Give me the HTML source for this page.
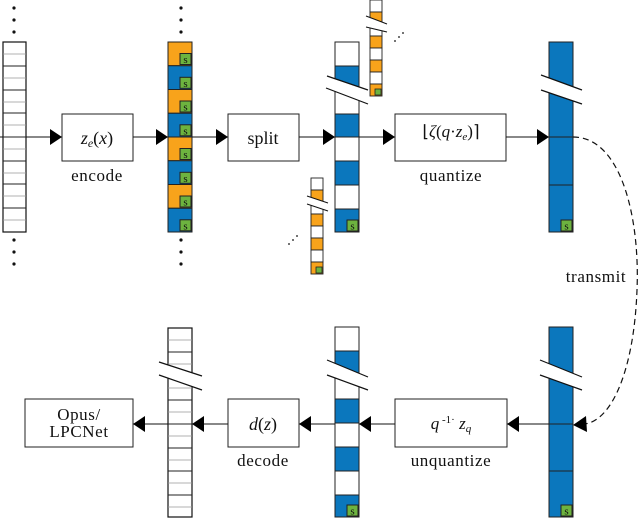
<!DOCTYPE html>
<html><head><meta charset="utf-8"><style>
html,body{margin:0;padding:0;background:#fff;}
svg{display:block;}
text{font-family:"Liberation Serif",serif;fill:#111;}
.lb{font-size:17px;letter-spacing:0.6px;}
</style></head><body>
<svg width="640" height="520" viewBox="0 0 640 520" xmlns="http://www.w3.org/2000/svg">
<defs>
<g id="s"><rect width="11" height="11" fill="#6db33f" stroke="#222" stroke-width="1"/><text x="5.5" y="9.5" font-family="Liberation Sans,sans-serif" font-size="11" text-anchor="middle">s</text></g>
<g id="ss"><rect width="6" height="6" fill="#6db33f" stroke="#222" stroke-width="0.8"/></g>
</defs>
<rect x="3" y="42" width="23" height="190" fill="#fff" stroke="#111" stroke-width="1.2"/>
<g stroke="#999" stroke-width="0.8">
<line x1="3" x2="26" y1="54" y2="54"/><line x1="3" x2="26" y1="78" y2="78"/><line x1="3" x2="26" y1="102" y2="102"/><line x1="3" x2="26" y1="125" y2="125"/><line x1="3" x2="26" y1="149" y2="149"/><line x1="3" x2="26" y1="173" y2="173"/><line x1="3" x2="26" y1="196" y2="196"/><line x1="3" x2="26" y1="220" y2="220"/>
</g>
<g stroke="#222" stroke-width="1">
<line x1="3" x2="26" y1="66" y2="66"/><line x1="3" x2="26" y1="90" y2="90"/><line x1="3" x2="26" y1="113" y2="113"/><line x1="3" x2="26" y1="137" y2="137"/><line x1="3" x2="26" y1="161" y2="161"/><line x1="3" x2="26" y1="184" y2="184"/><line x1="3" x2="26" y1="208" y2="208"/>
</g>
<g fill="#111">
<circle cx="14" cy="8" r="1.6"/><circle cx="14" cy="20" r="1.6"/><circle cx="14" cy="32" r="1.6"/>
<circle cx="14" cy="240" r="1.6"/><circle cx="14" cy="252" r="1.6"/><circle cx="14" cy="264" r="1.6"/>
<circle cx="181" cy="8" r="1.6"/><circle cx="181" cy="20" r="1.6"/><circle cx="181" cy="32" r="1.6"/>
<circle cx="181" cy="240" r="1.6"/><circle cx="181" cy="252" r="1.6"/><circle cx="181" cy="264" r="1.6"/>
</g>

<g stroke="#222" stroke-width="1">
<rect x="168" y="42" width="24" height="23.75" fill="#f8a31b"/>
<rect x="168" y="65.75" width="24" height="23.75" fill="#0b77bd"/>
<rect x="168" y="89.5" width="24" height="23.75" fill="#f8a31b"/>
<rect x="168" y="113.25" width="24" height="23.75" fill="#0b77bd"/>
<rect x="168" y="137" width="24" height="23.75" fill="#f8a31b"/>
<rect x="168" y="160.75" width="24" height="23.75" fill="#0b77bd"/>
<rect x="168" y="184.5" width="24" height="23.75" fill="#f8a31b"/>
<rect x="168" y="208.25" width="24" height="23.75" fill="#0b77bd"/>
</g>
<use href="#s" x="180" y="53.5"/><use href="#s" x="180" y="77.3"/><use href="#s" x="180" y="101"/><use href="#s" x="180" y="124.8"/><use href="#s" x="180" y="148.5"/><use href="#s" x="180" y="172.3"/><use href="#s" x="180" y="196"/><use href="#s" x="180" y="219.8"/>

<g stroke="#222" stroke-width="1">
<rect x="335" y="42" width="24" height="24" fill="#fff"/>
<rect x="335" y="66" width="24" height="24" fill="#0b77bd"/>
<rect x="335" y="90" width="24" height="24" fill="#fff"/>
<rect x="335" y="114" width="24" height="23" fill="#0b77bd"/>
<rect x="335" y="137" width="24" height="24" fill="#fff"/>
<rect x="335" y="161" width="24" height="24" fill="#0b77bd"/>
<rect x="335" y="185" width="24" height="24" fill="#fff"/>
<rect x="335" y="209" width="24" height="23" fill="#0b77bd"/>
</g>
<use href="#s" x="347" y="220"/>
<polygon points="327,76 368,90 368,104 326,88" fill="#fff"/>
<g stroke="#111" stroke-width="1.2"><line x1="327" y1="76" x2="368" y2="90"/><line x1="326" y1="88" x2="368" y2="104"/></g>

<g stroke="#222" stroke-width="0.9">
<rect x="370" y="0" width="12" height="12" fill="#fff"/>
<rect x="370" y="12" width="12" height="12" fill="#f8a31b"/>
<rect x="370" y="24" width="12" height="12" fill="#fff"/>
<rect x="370" y="36" width="12" height="12" fill="#f8a31b"/>
<rect x="370" y="48" width="12" height="12" fill="#fff"/>
<rect x="370" y="60" width="12" height="12" fill="#f8a31b"/>
<rect x="370" y="72" width="12" height="12" fill="#fff"/>
<rect x="370" y="84" width="12" height="12" fill="#f8a31b"/>
</g>
<use href="#ss" x="375" y="89"/>
<polygon points="366,16 387,24 387,32 366,27" fill="#fff"/>
<g stroke="#111" stroke-width="1"><line x1="366" y1="16" x2="387" y2="24"/><line x1="366" y1="27" x2="387" y2="32"/></g>
<g fill="#111"><circle cx="395" cy="41" r="0.9"/><circle cx="399" cy="37" r="0.9"/><circle cx="403" cy="33" r="0.9"/></g>

<g stroke="#222" stroke-width="0.9">
<rect x="311" y="178" width="12" height="12" fill="#fff"/>
<rect x="311" y="190" width="12" height="12" fill="#f8a31b"/>
<rect x="311" y="202" width="12" height="12" fill="#fff"/>
<rect x="311" y="214" width="12" height="12" fill="#f8a31b"/>
<rect x="311" y="226" width="12" height="12" fill="#fff"/>
<rect x="311" y="238" width="12" height="12" fill="#f8a31b"/>
<rect x="311" y="250" width="12" height="12" fill="#fff"/>
<rect x="311" y="262" width="12" height="12" fill="#f8a31b"/>
</g>
<use href="#ss" x="316" y="267"/>
<polygon points="307,196 328,203 328,211 307,204" fill="#fff"/>
<g stroke="#111" stroke-width="1"><line x1="307" y1="196" x2="328" y2="203"/><line x1="307" y1="204" x2="328" y2="211"/></g>
<g fill="#111"><circle cx="289" cy="244" r="0.9"/><circle cx="293" cy="240" r="0.9"/><circle cx="297" cy="236" r="0.9"/></g>

<rect x="549" y="42" width="24" height="190" fill="#0b77bd" stroke="#222" stroke-width="1"/>
<g stroke="#222" stroke-width="1"><line x1="549" x2="573" y1="137" y2="137"/><line x1="549" x2="573" y1="185" y2="185"/></g>
<use href="#s" x="561" y="220"/>
<polygon points="541,75 582,90 582,104 541,90" fill="#fff"/>
<g stroke="#111" stroke-width="1.2"><line x1="541" y1="75" x2="582" y2="90"/><line x1="541" y1="90" x2="582" y2="104"/></g>

<g stroke="#222" stroke-width="1" fill="#fff">
<rect x="62" y="114" width="71" height="47"/>
<rect x="228" y="114" width="71" height="47"/>
<rect x="395" y="114" width="111" height="47"/>
</g>
<text x="97" y="144" font-size="18" text-anchor="middle" font-style="italic">z<tspan font-size="12" dy="3">e</tspan><tspan dy="-3" font-style="normal">(</tspan>x<tspan font-style="normal">)</tspan></text>
<text x="97" y="181" class="lb" text-anchor="middle">encode</text>
<text x="263" y="144" font-size="18" text-anchor="middle">split</text>
<text x="451" y="137" font-size="17" text-anchor="middle">⌊<tspan font-style="italic">ζ</tspan>(<tspan font-style="italic">q</tspan>·<tspan font-style="italic">z</tspan><tspan font-size="11" dy="3" font-style="italic">e</tspan><tspan dy="-3">)⌉</tspan></text>
<text x="451" y="181" class="lb" text-anchor="middle">quantize</text>

<g stroke="#111" stroke-width="1">
<line x1="0" y1="137" x2="3" y2="137"/>
<line x1="26" y1="137" x2="62" y2="137"/>
<line x1="133" y1="137" x2="168" y2="137"/>
<line x1="192" y1="137" x2="228" y2="137"/>
<line x1="299" y1="137" x2="335" y2="137"/>
<line x1="359" y1="137" x2="395" y2="137"/>
<line x1="506" y1="137" x2="549" y2="137"/>
</g>
<g fill="#000">
<polygon points="50,129 62,137 50,145"/>
<polygon points="156,129 168,137 156,145"/>
<polygon points="216,129 228,137 216,145"/>
<polygon points="323,129 335,137 323,145"/>
<polygon points="383,129 395,137 383,145"/>
<polygon points="537,129 549,137 537,145"/>
</g>

<path d="M573,137 C622,137 640,220 637,290 C634,370 612,420 585,424" fill="none" stroke="#111" stroke-width="1.2" stroke-dasharray="6,4"/>
<polygon points="573,425 586,416 587,432" fill="#000"/>
<text x="596" y="282" class="lb" text-anchor="middle">transmit</text>

<rect x="549" y="327" width="24" height="190" fill="#0b77bd" stroke="#222" stroke-width="1"/>
<g stroke="#222" stroke-width="1"><line x1="549" x2="573" y1="424" y2="424"/><line x1="549" x2="573" y1="471" y2="471"/></g>
<use href="#s" x="561" y="505"/>
<polygon points="540,360 582,377 582,390 540,375" fill="#fff"/>
<g stroke="#111" stroke-width="1.2"><line x1="540" y1="360" x2="582" y2="377"/><line x1="540" y1="375" x2="582" y2="390"/></g>

<g stroke="#222" stroke-width="1">
<rect x="335" y="327" width="24" height="24" fill="#fff"/>
<rect x="335" y="351" width="24" height="24" fill="#0b77bd"/>
<rect x="335" y="375" width="24" height="24" fill="#fff"/>
<rect x="335" y="399" width="24" height="24" fill="#0b77bd"/>
<rect x="335" y="423" width="24" height="24" fill="#fff"/>
<rect x="335" y="447" width="24" height="24" fill="#0b77bd"/>
<rect x="335" y="471" width="24" height="24" fill="#fff"/>
<rect x="335" y="495" width="24" height="22" fill="#0b77bd"/>
</g>
<use href="#s" x="347" y="505"/>
<polygon points="327,360 368,377 368,390 327,375" fill="#fff"/>
<g stroke="#111" stroke-width="1.2"><line x1="327" y1="360" x2="368" y2="377"/><line x1="327" y1="375" x2="368" y2="390"/></g>

<rect x="168" y="328" width="24" height="189" fill="#fff" stroke="#111" stroke-width="1.2"/>
<g stroke="#999" stroke-width="0.8">
<line x1="168" x2="192" y1="340" y2="340"/><line x1="168" x2="192" y1="364" y2="364"/><line x1="168" x2="192" y1="388" y2="388"/><line x1="168" x2="192" y1="412" y2="412"/><line x1="168" x2="192" y1="436" y2="436"/><line x1="168" x2="192" y1="460" y2="460"/><line x1="168" x2="192" y1="483" y2="483"/><line x1="168" x2="192" y1="507" y2="507"/>
</g>
<g stroke="#222" stroke-width="1">
<line x1="168" x2="192" y1="352" y2="352"/><line x1="168" x2="192" y1="376" y2="376"/><line x1="168" x2="192" y1="400" y2="400"/><line x1="168" x2="192" y1="424" y2="424"/><line x1="168" x2="192" y1="448" y2="448"/><line x1="168" x2="192" y1="471" y2="471"/><line x1="168" x2="192" y1="495" y2="495"/>
</g>
<polygon points="159,362 202,376 202,390 159,375" fill="#fff"/>
<g stroke="#111" stroke-width="1.2"><line x1="159" y1="362" x2="202" y2="376"/><line x1="159" y1="375" x2="202" y2="390"/></g>

<g stroke="#222" stroke-width="1" fill="#fff">
<rect x="395" y="399" width="112" height="48"/>
<rect x="228" y="399" width="71" height="48"/>
<rect x="25" y="399" width="108" height="48"/>
</g>
<text x="451" y="429" font-size="17" text-anchor="middle"><tspan font-style="italic">q</tspan><tspan font-size="11" dy="-6"> -1·</tspan><tspan dy="6" font-style="italic"> z</tspan><tspan font-size="11" dy="3" font-style="italic">q</tspan></text>
<text x="451" y="466" class="lb" text-anchor="middle">unquantize</text>
<text x="263" y="430" font-size="18" text-anchor="middle"><tspan font-style="italic">d</tspan>(<tspan font-style="italic">z</tspan>)</text>
<text x="263" y="466" class="lb" text-anchor="middle">decode</text>
<text x="79" y="420" class="lb" text-anchor="middle">Opus/</text>
<text x="79" y="437" class="lb" text-anchor="middle">LPCNet</text>

<g stroke="#111" stroke-width="1">
<line x1="507" y1="424" x2="549" y2="424"/>
<line x1="359" y1="424" x2="395" y2="424"/>
<line x1="299" y1="424" x2="335" y2="424"/>
<line x1="133" y1="424" x2="168" y2="424"/>
<line x1="192" y1="424" x2="228" y2="424"/>
</g>
<g fill="#000">
<polygon points="507,424 519,416 519,432"/>
<polygon points="359,424 371,416 371,432"/>
<polygon points="299,424 311,416 311,432"/>
<polygon points="192,424 204,416 204,432"/>
<polygon points="133,424 145,416 145,432"/>
</g>
</svg>
</body></html>
